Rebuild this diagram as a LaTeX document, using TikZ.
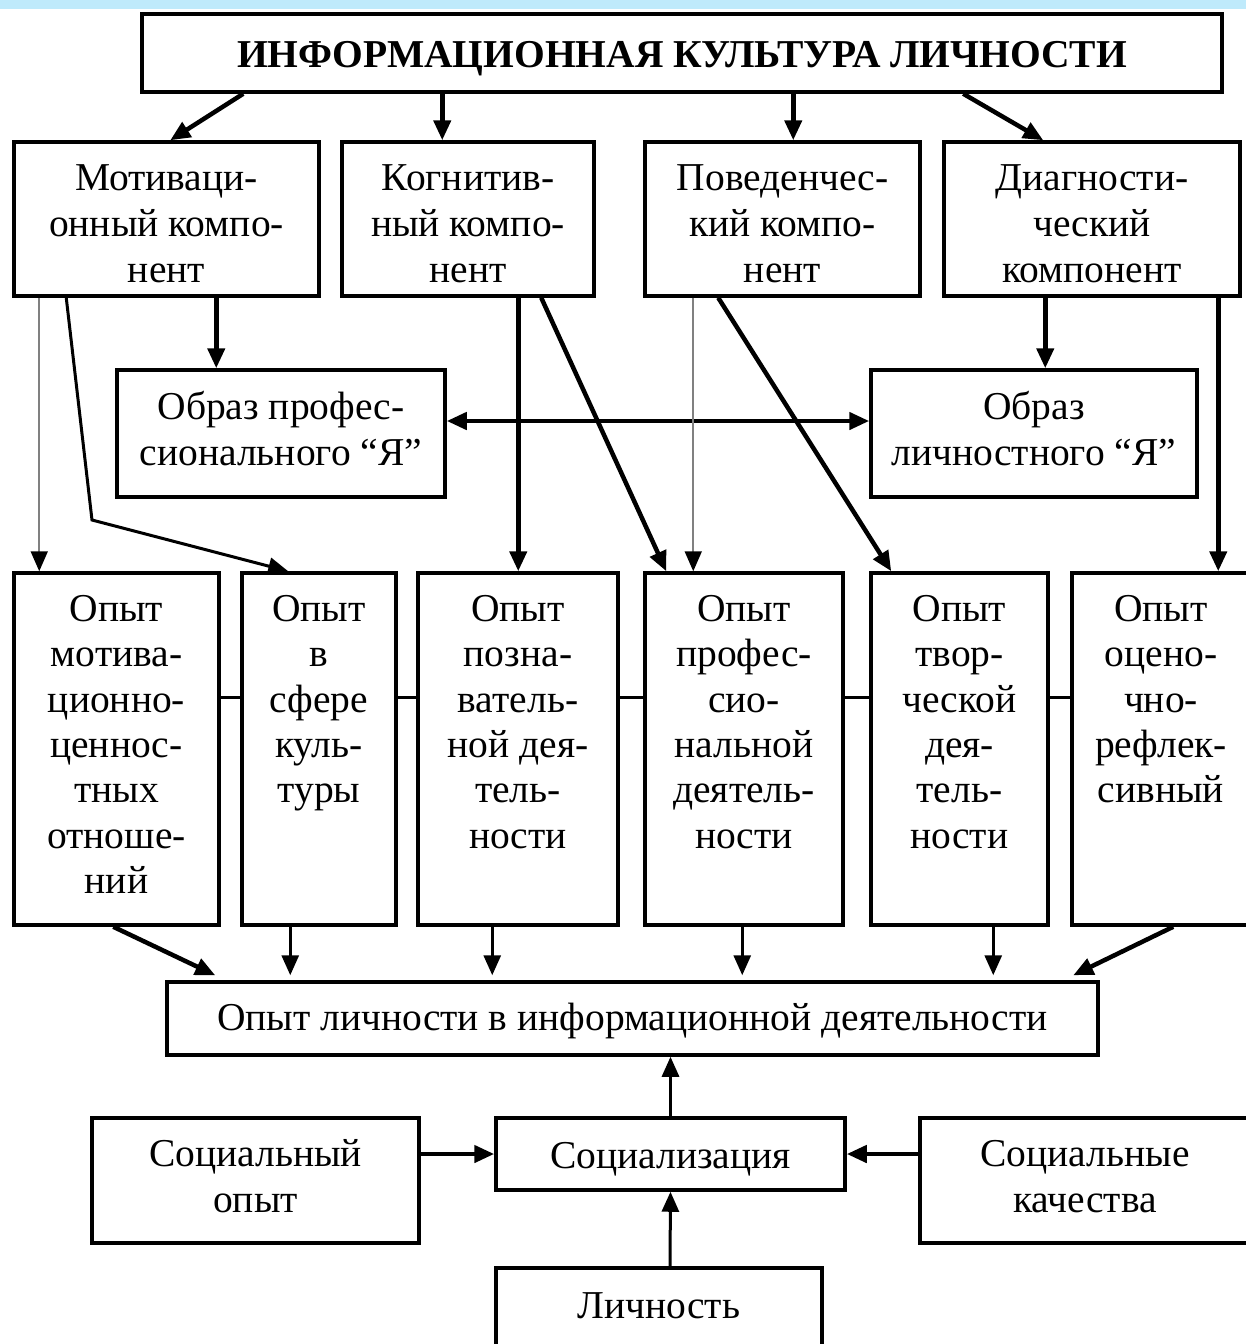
\documentclass[tikz,border=0pt]{standalone}
\usepackage{fontspec}
\setmainfont{Liberation Serif}
\usetikzlibrary{arrows.meta,calc}
\newcommand{\bx}[2][0pt]{\raisebox{#1}[\height][\depth]{\begin{tabular}{@{}c@{}}#2\end{tabular}}}
\begin{document}
\begin{tikzpicture}[x=1pt,y=-1pt,
  box/.style={draw,line width=3.5pt,align=center,inner sep=0pt,
    font=\fontsize{39.5}{46}\selectfont},
  txt/.style={align=center,inner sep=0pt,font=\fontsize{39.5}{45.3}\selectfont},
  tip/.style={-{Triangle[length=20pt,width=17pt]}},
  thick arr/.style={tip,line width=4.5pt},
  mid arr/.style={tip,line width=3pt},
  thin arr/.style={-{Triangle[length=20pt,width=17pt,color=black]},line width=1.8pt,draw=gray},
  link/.style={line width=3pt}]
\useasboundingbox (0,0) rectangle (1246,1344);
\fill[white] (0,0) rectangle (1246,1344);
\fill[cyan!25] (0,0) rectangle (1246,9);
% top
\node[box,minimum width=1080pt,minimum height=78pt,font=\fontsize{39.5}{46}\selectfont\bfseries] (title) at (682,53) {\bx[-5pt]{ИНФОРМАЦИОННАЯ КУЛЬТУРА ЛИЧНОСТИ}};
% row 1
\node[box,minimum width=305pt,minimum height=154pt] (M) at (166.5,219) {\bx[-8pt]{Мотиваци-\\онный компо-\\нент}};
\node[box,minimum width=252pt,minimum height=154pt] (K) at (468,219) {\bx[-8pt]{Когнитив-\\ный компо-\\нент}};
\node[box,minimum width=275pt,minimum height=154pt] (P) at (782.5,219) {\bx[-8pt]{Поведенчес-\\кий компо-\\нент}};
\node[box,minimum width=296pt,minimum height=154pt] (D) at (1092,219) {\bx[-8pt]{Диагности-\\ческий\\компонент}};
% row 2
\node[box,minimum width=328pt,minimum height=127pt] (OP) at (281,433.5) {\bx{Образ профес-\\сионального “Я”}};
\node[box,minimum width=326pt,minimum height=127pt] (OL) at (1034,433.5) {\bx{Образ\\личностного “Я”}};
% row 3
\node[box,minimum width=205pt,minimum height=352pt] (B1) at (116.5,749) {};
\node[box,minimum width=154pt,minimum height=352pt] (B2) at (319,749) {};
\node[box,minimum width=200pt,minimum height=352pt] (B3) at (518,749) {};
\node[box,minimum width=198pt,minimum height=352pt] (B4) at (744,749) {};
\node[box,minimum width=177pt,minimum height=352pt] (B5) at (959.5,749) {};
\node[box,minimum width=178pt,minimum height=352pt] (B6) at (1161,749) {};
\node[txt,anchor=north] (T1) at ([yshift=-24pt]B1.north) {Опыт\\мотива-\\ционно-\\ценнос-\\тных\\отноше-\\ний};
\node[txt,anchor=north] (T2) at ([yshift=-24pt]B2.north) {Опыт\\в\\сфере\\куль-\\туры};
\node[txt,anchor=north] (T3) at ([yshift=-24pt]B3.north) {Опыт\\позна-\\ватель-\\ной дея-\\тель-\\ности};
\node[txt,anchor=north] (T4) at ([yshift=-24pt]B4.north) {Опыт\\профес-\\сио-\\нальной\\деятель-\\ности};
\node[txt,anchor=north] (T5) at ([yshift=-24pt]B5.north) {Опыт\\твор-\\ческой\\дея-\\тель-\\ности};
\node[txt,anchor=north] (T6) at ([yshift=-24pt]B6.north) {Опыт\\оцено-\\чно-\\рефлек-\\сивный};
% bottom
\node[box,minimum width=931pt,minimum height=73pt] (E) at (632.5,1018.5) {\bx[-3pt]{Опыт личности в информационной деятельности}};
\node[box,minimum width=327pt,minimum height=125pt] (SO) at (255.5,1180.5) {\bx{Социальный\\опыт}};
\node[box,minimum width=349pt,minimum height=72pt] (SZ) at (670.5,1154) {\bx[-5pt]{Социализация}};
\node[box,minimum width=330pt,minimum height=125pt] (SK) at (1085,1180.5) {\bx{Социальные\\качества}};
\node[box,minimum width=326pt,minimum height=82pt] (L) at (659,1309) {\bx{Личность}};
% arrows from title
\draw[thick arr] ([xshift=103pt]title.south west) -- ([xshift=158pt]M.north west);
\draw[thick arr] ([xshift=302pt]title.south west) -- ([xshift=102pt]K.north west);
\draw[thick arr] ([xshift=653pt]title.south west) -- ([xshift=150pt]P.north west);
\draw[thick arr] ([xshift=823pt]title.south west) -- ([xshift=101pt]D.north west);
% row1 -> row2
\draw[thick arr] ([xshift=204pt]M.south west) -- ([xshift=101pt]OP.north west);
\draw[thick arr] ([xshift=103pt]D.south west) -- ([xshift=176pt]OL.north west);
\draw[thick arr,{Triangle[length=20pt,width=17pt]}-{Triangle[length=20pt,width=17pt]}] ([yshift=12.5pt]OP.east) -- ([yshift=12.5pt]OL.west);
% row1 -> row3
\coordinate (bend) at (92,520);
\draw[thin arr] ([xshift=27pt]M.south west) -- ([xshift=27pt]B1.north west);
\draw[mid arr] ([xshift=54pt]M.south west) -- (bend) -- ([xshift=48pt]B2.north west);
\draw[thick arr] ([xshift=178pt]K.south west) -- ([xshift=102pt]B3.north west);
\draw[thick arr] ([xshift=201pt]K.south west) -- ([xshift=23pt]B4.north west);
\draw[thin arr] ([xshift=50pt]P.south west) -- ([xshift=50pt]B4.north west);
\draw[thick arr] ([xshift=75pt]P.south west) -- ([xshift=22pt]B5.north west);
\draw[thick arr] ([xshift=276pt]D.south west) -- ([xshift=148pt]B6.north west);
% row3 links
\draw[link] ([yshift=52pt]B1.east) -- ([yshift=52pt]B2.west);
\draw[link] ([yshift=52pt]B2.east) -- ([yshift=52pt]B3.west);
\draw[link] ([yshift=52pt]B3.east) -- ([yshift=52pt]B4.west);
\draw[link] ([yshift=52pt]B4.east) -- ([yshift=52pt]B5.west);
\draw[link] ([yshift=52pt]B5.east) -- ([yshift=52pt]B6.west);
% row3 -> E
\draw[thick arr] ([xshift=101pt]B1.south west) -- ([xshift=50pt,yshift=5pt]E.north west);
\draw[mid arr] ([xshift=50pt]B2.south west) -- ([xshift=125pt,yshift=5pt]E.north west);
\draw[mid arr] ([xshift=76pt]B3.south west) -- ([xshift=327pt,yshift=5pt]E.north west);
\draw[mid arr] ([xshift=99pt]B4.south west) -- ([xshift=577pt,yshift=5pt]E.north west);
\draw[mid arr] ([xshift=124pt]B5.south west) -- ([xshift=828pt,yshift=5pt]E.north west);
\draw[thick arr] ([xshift=103pt]B6.south west) -- ([xshift=908pt,yshift=5pt]E.north west);
% bottom arrows
\draw[mid arr] (SZ.north) -- (SZ.north |- E.south);
\draw[thick arr] (SO.east |- SZ.west) -- (SZ.west);
\draw[thick arr] (SK.west |- SZ.east) -- (SZ.east);
\draw[mid arr] ([xshift=11pt]L.north) -- (SZ.south);
\end{tikzpicture}
\end{document}
